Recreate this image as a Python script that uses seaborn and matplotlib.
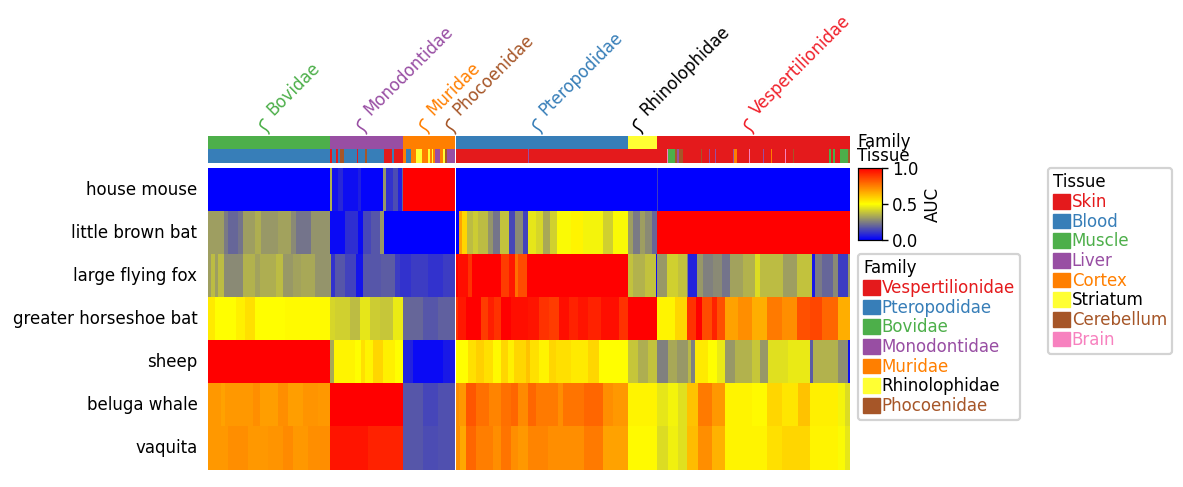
import numpy as np
import pandas as pd
import matplotlib
matplotlib.use("Agg")
import matplotlib.pyplot as plt
import seaborn as sns
from matplotlib.colors import LinearSegmentedColormap, ListedColormap
from matplotlib.patches import Patch, PathPatch
from matplotlib.path import Path

W, H = 1183, 487
nan = np.nan

species = ["house mouse", "little brown bat", "large flying fox", "greater horseshoe bat",
           "sheep", "beluga whale", "vaquita"]

# every row: (last column of the run, AUC)
mouse_runs = [(122,0),(124,.35),(130,.04),(135,.08),(150,.03),(153,.06),(175,.01),(178,.3),(185,.1),(190,.15),(194,.07),(195,.2),
              (247,1),(248,nan),(449,0),(450,.12),(642,0)]

brownbat_runs = [(16,.31),(20,.24),(30,.2),(35,.23),(47,.31),(53,.34),(70,.3),(83,.32),(88,.27),(103,.23),(122,.29),
                 (137,.02),(150,.09),(155,.02),(163,.14),(172,.17),(176,.3),(247,0),(248,nan),(251,0),(254,.68),(259,.58),
                 (265,.37),(270,.4),(280,.37),(285,.29),(292,.23),(301,.38),(307,.14),(315,.27),(320,.13),(328,.45),(335,.42),
                 (342,.33),(349,.41),(363,.49),(375,.52),(395,.48),(405,.41),(420,.49),(425,.31),(432,.24),(437,.31),(444,.27),
                 (449,.2),(642,1)]

fox_runs = [(3,.31),(7,.37),(10,.31),(16,.37),(35,.27),(47,.35),(52,.32),(68,.34),(75,.37),(85,.3),(93,.32),(107,.33),(122,.29),
            (123,.3),(127,.1),(137,.17),(148,.13),(155,.04),(173,.17),(187,.18),(192,.12),(203,.1),(220,.12),(235,.1),(247,.12),
            (248,nan),(250,1),(260,.97),(264,.9),(293,1),(301,.88),(307,.95),(310,.78),(319,.85),(420,1),(425,.38),(437,.35),
            (448,.38),(449,.03),(459,.3),(470,.41),(479,.38),(480,.25),(489,.07),(495,.3),(505,.25),(514,.27),(522,.23),(535,.32),
            (547,.35),(552,.43),(575,.37),(589,.31),(604,.38),(607,.05),(614,.24),(625,.2),(630,.27),(640,.12),(642,.3)]

horseshoe_runs = [(7,.54),(28,.5),(37,.53),(47,.56),(77,.5),(122,.51),(127,.42),(142,.41),(152,.37),(162,.45),(172,.4),(185,.39),
                  (195,.46),(215,.2),(230,.17),(247,.19),(248,nan),(250,.9),(258,.95),(273,1),(280,.88),(286,.94),(293,.9),(303,1),
                  (320,.97),(331,.96),(341,.9),(351,.88),(361,.97),(370,.93),(380,.96),(393,.93),(411,.97),(420,.9),(449,1),(467,.52),
                  (479,.58),(488,.9),(494,1),(504,.85),(509,.93),(517,.84),(530,.68),(544,.72),(559,.66),(574,.76),(589,.72),(602,.84),
                  (614,.86),(630,.8),(642,.66)]

sheep_runs = [(122,1),(126,.33),(147,.52),(153,.5),(157,.56),(165,.52),(175,.58),(187,.53),(195,.5),(205,.07),(235,.02),(247,.05),
              (248,nan),(260,.5),(268,.56),(276,.59),(285,.56),(293,.51),(300,.58),(306,.53),(318,.58),(322,.62),(331,.56),(341,.52),
              (348,.58),(363,.56),(380,.54),(391,.58),(420,.5),(430,.39),(440,.34),(449,.38),(460,.25),(469,.33),(480,.3),(483,.36),
              (487,.25),(500,.54),(509,.5),(517,.46),(527,.3),(544,.35),(552,.39),(560,.3),(580,.44),(602,.46),(605,.18),(630,.35),
              (640,.28),(642,.03)]

beluga_runs = [(13,.7),(17,.68),(45,.7),(52,.72),(70,.69),(80,.72),(95,.69),(110,.71),(122,.7),(195,1),(215,.17),(230,.14),(247,.16),
               (248,nan),(251,.72),(258,.7),(268,.83),(281,.78),(293,.74),(303,.78),(310,.8),(320,.73),(328,.8),(350,.76),(355,.72),
               (376,.77),(395,.8),(405,.72),(420,.7),(449,.52),(460,.45),(470,.48),(479,.44),(490,.62),(504,.76),(517,.7),(544,.52),
               (559,.51),(574,.58),(590,.55),(602,.62),(630,.53),(637,.48),(642,.43)]

vaquita_runs = [(20,.7),(40,.72),(60,.7),(75,.71),(85,.73),(100,.7),(122,.72),(160,.96),(195,.93),(215,.17),(230,.15),(247,.16),
                (248,nan),(252,.72),(258,.67),(268,.8),(285,.75),(293,.72),(303,.77),(310,.72),(320,.7),(340,.74),(376,.72),(395,.76),
                (420,.68),(449,.51),(460,.43),(470,.47),(479,.44),(490,.63),(504,.72),(517,.65),(559,.52),(574,.56),(602,.58),(630,.52),
                (637,.49),(642,.45)]

family_names = ["Bovidae", "Monodontidae", "Muridae", "Phocoenidae", "Pteropodidae", "Rhinolophidae", "Vespertilionidae"]
family_edges = [0,122,195,247,248,420,449,642]
family_codes = [2,3,4,nan,1,5,0]

# (last column of the run, tissue code)
tissue_runs = [(122,1),(124,0),(128,1),(130,0),(132,1),(136,6),(149,1),(150,0),(157,1),(159,6),(176,1),(184,0),
               (186,1),(195,0),(198,4),(203,1),(208,4),(214,5),(220,4),(222,5),(224,4),(225,5),(227,4),(232,3),
               (235,4),(237,5),(239,6),(247,3),(248,nan),(320,0),(321,3),(459,0),(460,7),(467,2),(469,6),(471,3),
               (475,6),(493,0),(494,6),(501,0),(502,3),(507,0),(508,3),(525,0),(526,3),(529,4),(541,0),(542,7),
               (555,0),(556,3),(563,0),(564,4),(577,0),(578,7),(585,0),(586,6),(621,0),(623,2),(625,0),(627,2),
               (632,0),(640,2),(642,6)]

family_legend = ["Vespertilionidae", "Pteropodidae", "Bovidae", "Monodontidae", "Muridae", "Rhinolophidae", "Phocoenidae"]
tissue_legend = ["Skin", "Blood", "Muscle", "Liver", "Cortex", "Striatum", "Cerebellum", "Brain"]
palette = ["#e41a1c", "#377eb8", "#4daf4a", "#984ea3", "#ff7f00", "#ffff33", "#a65628", "#f781bf"]
label_colors = {"Bovidae": "#4daf4a", "Monodontidae": "#984ea3", "Muridae": "#ff7f00", "Phocoenidae": "#a65628",
                "Pteropodidae": "#377eb8", "Rhinolophidae": "black", "Vespertilionidae": "#f0202a"}


def expand_runs(runs):
    ends = [0] + [r[0] for r in runs]
    return np.repeat(np.array([r[1] for r in runs], dtype=float), np.diff(ends))


all_runs = [mouse_runs, brownbat_runs, fox_runs, horseshoe_runs, sheep_runs, beluga_runs, vaquita_runs]
auc = pd.DataFrame([expand_runs(r) for r in all_runs], index=species)
family_row = np.repeat(np.array(family_codes, dtype=float), np.diff(family_edges)).reshape(1, -1)
tissue_row = expand_runs(tissue_runs).reshape(1, -1)

sns.set_theme(style="white", rc={"font.family": "DejaVu Sans"})
FS = 12
fig = plt.figure(figsize=(W / 100, H / 100), dpi=100)


def axes_px(x0, y0, x1, y1):
    return fig.add_axes([x0 / W, 1 - y1 / H, (x1 - x0) / W, (y1 - y0) / H])


cmap = LinearSegmentedColormap.from_list("byr", ["blue", "yellow", "red"])
ax = axes_px(208, 168, 850, 469.5)
cax = axes_px(858, 168, 882, 240)
sns.heatmap(auc, ax=ax, cmap=cmap, vmin=0, vmax=1, cbar_ax=cax, xticklabels=False, yticklabels=True,
            cbar_kws={"label": "AUC", "ticks": [0, .5, 1]})
ax.tick_params(axis="y", length=0, labelsize=FS, rotation=0, pad=7.6, labelcolor="black")
ax.set_ylabel("")
cax.tick_params(labelsize=FS, length=4, width=1, color="black", labelcolor="black", pad=3)
cax.set_yticklabels(["0.0", "0.5", "1.0"])
cax.yaxis.label.set_size(FS)
cax.yaxis.label.set_color("black")
cax.yaxis.labelpad = 4
for s in cax.spines.values():
    s.set_visible(True)
    s.set_color("black")
    s.set_linewidth(.8)

ann = ListedColormap(palette)
fam_ax = axes_px(208, 136, 850, 149)
sns.heatmap(family_row, ax=fam_ax, cmap=ann, vmin=-.5, vmax=7.5, cbar=False, xticklabels=False, yticklabels=False)
tis_ax = axes_px(208, 149, 850, 163)
sns.heatmap(tissue_row, ax=tis_ax, cmap=ann, vmin=-.5, vmax=7.5, cbar=False, xticklabels=False, yticklabels=False)
fig.text(857 / W, 1 - 142 / H, "Family", fontsize=FS, va="center", color="black")
fig.text(857 / W, 1 - 156 / H, "Tissue", fontsize=FS, va="center", color="black")

# family labels with their curly leaders
for i, name in enumerate(family_names):
    c = (family_edges[i] + family_edges[i + 1]) / 2
    col = label_colors[name]
    verts = [(0, 0), (0, 5), (-9, 6), (-9, 10), (-8.8, 12.5), (-7.5, 14.5), (-6, 15)]
    codes = [Path.MOVETO] + [Path.CURVE4] * 6
    base = fam_ax.transData.transform((c, 0))
    y_top = fig.bbox.height * (1 - 134 / H)
    pix = [(base[0] + a, y_top + b) for a, b in verts]
    fig.add_artist(PathPatch(Path(pix, codes), transform=None, fc="none", ec=col, lw=1.15, capstyle="round"))
    fig.text((base[0] + 4) / fig.bbox.width, (y_top + 17.5) / fig.bbox.height, name, color=col, fontsize=FS,
             rotation=45, rotation_mode="anchor", ha="left", va="baseline")


def make_legend(title, names, anchor_px, black):
    handles = [Patch(facecolor=palette[i], edgecolor=palette[i], label=n) for i, n in enumerate(names)]
    lg = fig.legend(handles=handles, title=title, loc="upper left",
                    bbox_to_anchor=(anchor_px[0] / W, 1 - anchor_px[1] / H), borderaxespad=0,
                    fontsize=FS, title_fontsize=FS, handlelength=1.0, handleheight=1.0, handletextpad=.1,
                    labelspacing=.1, borderpad=.32, frameon=True, fancybox=True, framealpha=1, edgecolor="#d3d3d3")
    lg.get_frame().set_linewidth(1.6)
    lg._legend_box.align = "left"
    lg.get_title().set_color("black")
    for t, h, n in zip(lg.get_texts(), handles, names):
        t.set_color("black" if n == black else h.get_facecolor())
    return lg


make_legend("Family", family_legend, (858, 254), "Rhinolophidae")
make_legend("Tissue", tissue_legend, (1048, 168), "Striatum")

fig.savefig("out.png", dpi=100, facecolor="white")
